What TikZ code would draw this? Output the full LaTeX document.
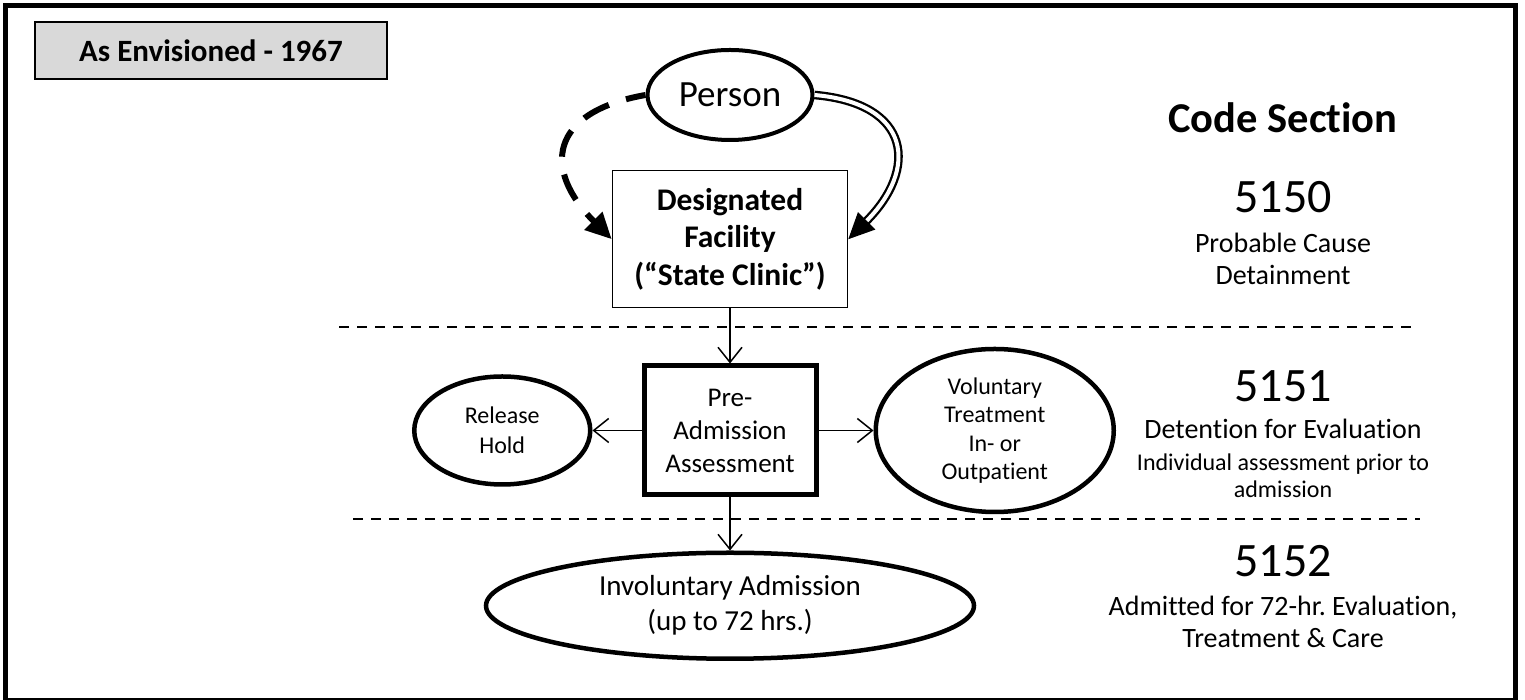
\documentclass[tikz,border=0pt]{standalone}
\usepackage{fontspec}
\setmainfont{Carlito}[Ligatures=NoCommon]
\usepackage{tikz}
\usetikzlibrary{arrows.meta,shapes.geometric,positioning}
\frenchspacing
\tikzset{
oval/.style={ellipse, draw, line width=4.5pt, inner sep=0pt, align=center}, % outlined ellipse for outcomes
facility/.style={rectangle, draw, line width=1.5pt, inner sep=0pt, align=center}, % thin box
assess/.style={rectangle, draw, line width=5pt, inner sep=0pt, align=center}, % heavy box
flow/.style={-{Straight Barb[length=15pt,width=24pt]}, line width=1.5pt}, % plain connector
divider/.style={dash pattern=on 10pt off 8pt, line width=2pt}, % section separator
codenum/.style={anchor=base, font=\fontsize{48}{54}\selectfont},
codetext/.style={anchor=base, align=center, font=\fontsize{28}{32.5}\selectfont}, % anchored on its last line
}
\begin{document}
\begin{tikzpicture}[x=1pt, y=1pt]
		\useasboundingbox (0,0) rectangle (1525,700);
		\draw[line width=5pt] (5.5,-1) rectangle (1515,694.5);
		\node[draw, fill=black!15, line width=1.5pt, minimum width=352pt, minimum height=57pt, font=\bfseries\fontsize{31}{36}\selectfont] (era) at (211,649.5) {As Envisioned - 1967};
		% flow chart
		\node[oval, line width=4pt, minimum width=165pt, minimum height=90pt, font=\fontsize{37}{40}\selectfont] (person) at (730,605) {Person};
		\node[facility, below=28pt of person, minimum width=235pt, minimum height=137pt, font=\bfseries\fontsize{31.5}{37.5}\selectfont] (clinic) {Designated\\Facility\\(“State Clinic”)};
		\node[assess, below=55pt of clinic, minimum width=172pt, minimum height=129pt, font=\fontsize{27}{33}\selectfont] (pre) {Pre-\\Admission\\Assessment};
		\node[oval, left=49pt of pre, minimum width=176pt, minimum height=108pt, font=\fontsize{24}{30}\selectfont] (release) {Release\\Hold};
		\node[oval, right=55pt of pre, minimum width=238pt, minimum height=163pt, font=\fontsize{24}{28.5}\selectfont] (voluntary) {Voluntary\\Treatment\\In- or\\Outpatient};
		\node[oval, below=53pt of pre, minimum width=488pt, minimum height=106pt, font=\fontsize{29}{35}\selectfont] (involuntary) {Involuntary Admission\\(up to 72 hrs.)};
		\draw[line width=6pt, dash pattern=on 28pt off 18pt, dash phase=8pt, -{Triangle[length=26pt,width=24pt]}] (person.west) to[out=190, in=135, looseness=1.7] (clinic.west);
		\draw[double, double distance=4pt, line width=2.3pt, -{Triangle[length=26pt,width=24pt]}] (person.east) to[out=-5, in=45, looseness=1.7] (clinic.east);
		\draw[flow] (clinic) -- (pre);
		\draw[flow] (pre) -- (release);
		\draw[flow] (pre) -- (voluntary);
		\draw[flow] (pre) -- (involuntary);
		% section lines
		\draw[divider] (339,373) -- (1413,373);
		\draw[divider] (353,181) -- (1420,181);
		% code sections
		\node[anchor=base, font=\bfseries\fontsize{42.5}{48}\selectfont] (heading) at (1283,567) {Code Section};
		\node[codenum] (c5150) at (1283,487) {5150};
		\node[codetext] (t5150) at (1283,415) {Probable Cause\\Detainment};
		\node[codenum] (c5151) at (1283,298) {5151};
		\node[codetext] (t5151) at (1283,261) {Detention for Evaluation};
		\node[codetext, font=\fontsize{24}{27}\selectfont] (n5151) at (1283,202) {Individual assessment prior to\\admission};
		\node[codenum] (c5152) at (1283,123) {5152};
		\node[codetext] (t5152) at (1283,52) {Admitted for 72-hr. Evaluation,\\Treatment \& Care};
	\end{tikzpicture}
\end{document}
